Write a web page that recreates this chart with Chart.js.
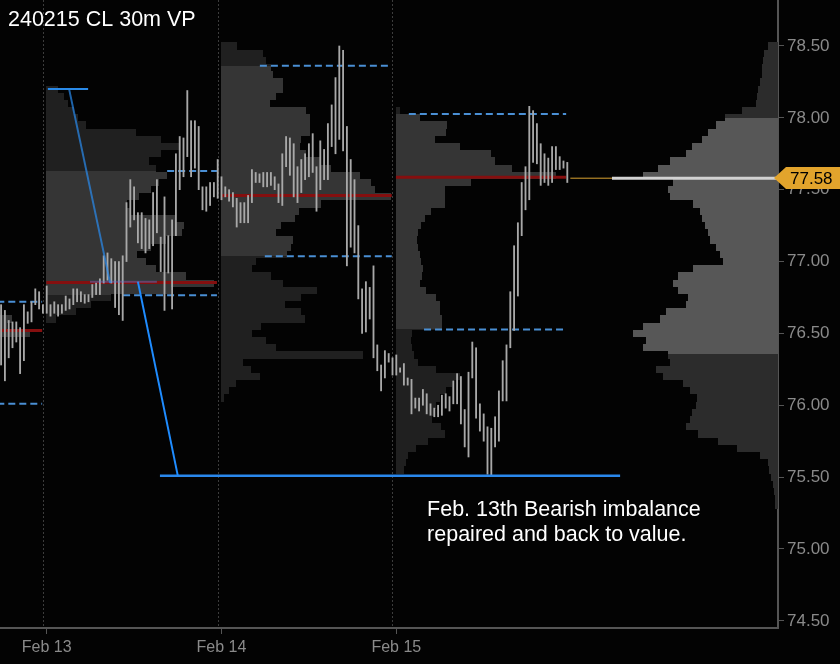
<!DOCTYPE html>
<html>
<head>
<meta charset="utf-8">
<script src="https://cdn.jsdelivr.net/npm/chart.js@4.4.1/dist/chart.umd.min.js"></script>
<style>
  html, body { margin: 0; padding: 0; background: #030303; }
  #wrap { width: 840px; height: 664px; position: relative; }
</style>
</head>
<body>
<div id="wrap"><canvas id="c"></canvas></div>
<script>
// x unit = 30m bar index, 0 = first bar of Feb 13, 46 bars per session
var dayLabels = ['Feb 12', 'Feb 13', 'Feb 14', 'Feb 15'];
var dayStart = [-46, 0, 46, 92];
var dayEnd = [-1.2, 44.8, 90.8, 136.7];
var firstBar = -12;
var yTicks = [74.5, 75, 75.5, 76, 76.5, 77, 77.5, 78, 78.5];

// 30m bar ranges, left to right
var barHigh = [
  76.70, 76.66, 76.59, 76.58, 76.58, 76.54, 76.70, 76.65, 76.72, 76.81, 76.79, 76.70,
  76.83, 76.70, 76.72, 76.70, 76.70, 76.76, 76.74, 76.81, 76.81, 76.79,
  76.77, 76.77, 76.84, 76.85, 76.88, 77.04, 77.06, 77.02, 77.00, 77.00,
  77.04, 77.41, 77.57, 77.52, 77.34, 77.34, 77.30, 77.29, 77.48, 77.57,
  77.17, 77.45, 77.18, 77.29, 77.75, 77.87, 77.86, 78.19, 77.98, 77.98,
  77.94, 77.52, 77.52, 77.55, 77.55, 77.71,
  77.59, 77.52, 77.50, 77.48, 77.44, 77.41, 77.41, 77.46, 77.64, 77.62,
  77.61, 77.62, 77.62, 77.62, 77.59, 77.54, 77.75, 77.87, 77.86, 77.82,
  77.66, 77.71, 77.75, 77.82, 77.89, 77.66, 77.84, 77.78, 77.96, 78.09,
  78.28, 78.50, 78.47, 77.94, 77.71, 77.57, 77.25, 76.81, 76.86, 76.82,
  76.97, 76.42, 76.28, 76.38, 76.36, 76.33,
  76.35, 76.26, 76.29, 76.19, 76.18, 76.05, 76.05, 76.11, 76.08, 76.01,
  75.98, 76.00, 76.07, 76.08, 76.06, 76.17, 76.22, 76.20, 75.97, 76.23,
  76.44, 76.40, 76.01, 75.94, 75.85, 75.84, 75.92, 76.10, 76.31, 76.42,
  76.79, 77.11, 77.27, 77.55, 77.66, 78.08, 78.05, 77.96, 77.82, 77.75,
  77.72, 77.80, 77.80, 77.73, 77.70, 77.69
];
var barLow = [
  76.28, 76.17, 76.33, 76.40, 76.44, 76.22, 76.31, 76.57, 76.58, 76.70, 76.67, 76.64,
  76.64, 76.62, 76.64, 76.62, 76.64, 76.66, 76.67, 76.70, 76.72, 76.72,
  76.71, 76.72, 76.75, 76.77, 76.77, 76.85, 76.87, 76.85, 76.68, 76.63,
  76.59, 77.00, 77.24, 77.29, 77.13, 77.09, 77.06, 77.09, 77.11, 77.20,
  76.93, 76.66, 76.92, 76.67, 77.18, 77.50, 77.59, 77.73, 77.59, 77.65,
  77.50, 77.36, 77.35, 77.39, 77.45, 77.44,
  77.43, 77.45, 77.42, 77.38, 77.24, 77.27, 77.27, 77.27, 77.41, 77.55,
  77.55, 77.52, 77.52, 77.53, 77.50, 77.41, 77.39, 77.66, 77.60, 77.45,
  77.41, 77.48, 77.57, 77.59, 77.62, 77.35, 77.50, 77.57, 77.57, 77.80,
  77.75, 77.85, 77.77, 76.97, 77.10, 77.06, 76.74, 76.50, 76.51, 76.60,
  76.33, 76.24, 76.10, 76.19, 76.30, 76.21,
  76.21, 76.23, 76.14, 76.14, 75.94, 75.98, 75.96, 76.00, 75.94, 75.93,
  75.92, 75.92, 75.93, 75.98, 75.96, 76.01, 76.01, 75.87, 75.71, 75.64,
  76.19, 75.91, 75.82, 75.75, 75.52, 75.51, 75.71, 75.75, 76.03, 76.03,
  76.40, 76.52, 76.76, 77.18, 77.36, 77.43, 77.69, 77.68, 77.53, 77.55,
  77.53, 77.55, 77.64, 77.64, 77.65, 77.55
];
var lastClose = 77.58;

// volume profiles, rows of 0.05 from the given low price
var profStep = 0.05;
var feb12Low = 76.00;
var feb12Vol = [60, 70, 80, 90, 95, 100, 110, 115, 120, 125, 158, 135, 140, 120, 110, 90, 60];
var feb13Low = 76.60;
var feb13Vol = [10, 30, 45, 65, 125, 168, 140, 110, 100, 91, 105, 120, 136, 138, 130, 85, 81, 93,
  105, 113, 121, 110, 103, 115, 133, 115, 90, 40, 32, 28, 22, 18, 12];
var feb14Low = 76.05;
var feb14Vol = [3, 8, 15, 39, 30, 22, 142, 55, 45, 31, 40, 84, 80, 64, 80, 96, 62, 50, 31, 35,
  66, 70, 72, 55, 60, 74, 78, 100, 170, 154, 150, 139, 110, 99, 85, 79, 80, 89, 89, 89,
  85, 49, 55, 62, 62, 52, 50, 45, 42, 16];
var feb15Low = 75.55;
var feb15Vol = [8, 10, 12, 20, 32, 49, 45, 36, 38, 40, 44, 50, 56, 64, 40, 22, 18, 16, 15, 16,
  46, 46, 44, 44, 40, 30, 24, 26, 27, 25, 24, 22, 21, 22, 25, 29, 35, 49, 49, 49,
  75, 160, 116, 99, 95, 64, 39, 50, 51, 24, 4];
var compLow = 75.30;
var compVol = [3, 3, 4, 5, 7, 9, 10, 18, 41, 60, 80, 92, 88, 86, 82, 81, 88, 95, 115, 122,
  108, 110, 135, 132, 145, 135, 118, 112, 92, 90, 100, 105, 100, 85, 55, 58, 62, 68, 70, 73,
  76, 78, 85, 108, 110, 105, 135, 120, 108, 92, 86, 76, 70, 62, 53, 36, 22, 21, 20, 18,
  16, 16, 15, 14, 10];
var compPocPrice = 77.58;
var compPocVol = 166;
var compVaLow = 76.36;
var compVaHigh = 78.00;

// session levels
var pocPrice = [76.52, 76.855, 77.46, 77.587];
var vahPrice = [76.72, 77.63, 78.363, 78.026];
var valPrice = [76.01, 76.765, 77.037, 76.528];
var vahFrom = [-13, 31.7, 56.1, 95.3];
var valFrom = [-13, 20.1, 57.4, 99.3];

// drawn annotation (bar index, price)
var markHigh = 78.20;
var markRetest = 76.86;
var markLow = 75.51;
var noteLines = ['Feb. 13th Bearish imbalance', 'repaired and back to value.'];
var noteAt = { x: 100.1, y: 75.23 };
var titleText = '240215 CL 30m VP';

var xMin = -12.29, xMax = 192.45, yMin = 74.45, yMax = 78.82;
var volToBars = 1 / 3.8;
var FONT = 'Arial, "Liberation Sans", sans-serif';

var daily = [
  { start: dayStart[0] - 0.1, low: feb12Low, vols: feb12Vol, vaLow: valPrice[0], vaHigh: vahPrice[0] },
  { start: dayStart[1] - 0.1, low: feb13Low, vols: feb13Vol, vaLow: valPrice[1], vaHigh: vahPrice[1] },
  { start: dayStart[2] - 0.1, low: feb14Low, vols: feb14Vol, vaLow: valPrice[2], vaHigh: vahPrice[2] },
  { start: dayStart[3] - 0.1, low: feb15Low, vols: feb15Vol, vaLow: valPrice[3], vaHigh: vahPrice[3] }
];
var composite = { low: compLow, vols: compVol, vaLow: compVaLow, vaHigh: compVaHigh };

function drawProfile(ctx, xs, ys, p, dark, light, fromRight) {
  var vaTop = Math.round(ys.getPixelForValue(p.vaHigh));
  var vaBot = Math.round(ys.getPixelForValue(p.vaLow));
  p.vols.forEach(function (v, i) {
    var price = p.low + i * profStep;
    var top = Math.round(ys.getPixelForValue(price + profStep / 2));
    var bot = Math.round(ys.getPixelForValue(price - profStep / 2));
    var xa, xb;
    if (fromRight) {
      xa = xs.getPixelForValue(xMax - v * volToBars);
      xb = xs.getPixelForValue(xMax);
    } else {
      xa = xs.getPixelForValue(p.start);
      xb = xs.getPixelForValue(p.start + v * volToBars);
    }
    xa = Math.round(xa); xb = Math.round(xb);
    ctx.fillStyle = dark;
    ctx.fillRect(xa, top, xb - xa, bot - top);
    var t = Math.max(top, vaTop), b = Math.min(bot, vaBot);
    if (b > t) {
      ctx.fillStyle = light;
      ctx.fillRect(xa, t, xb - xa, b - t);
    }
  });
}

var backdrop = {
  id: 'backdrop',
  beforeDatasetsDraw: function (chart) {
    var ctx = chart.ctx, xs = chart.scales.x, ys = chart.scales.y, a = chart.chartArea;
    ctx.save();
    // session separators
    ctx.strokeStyle = '#3c3c3c';
    ctx.lineWidth = 1;
    ctx.setLineDash([2, 2]);
    dayStart.forEach(function (d) {
      var x = Math.round(xs.getPixelForValue(d - 1)) + 0.5;
      if (x < a.left) return;
      ctx.beginPath();
      ctx.moveTo(x, 0);
      ctx.lineTo(x, a.bottom);
      ctx.stroke();
    });
    ctx.setLineDash([]);
    ctx.beginPath();
    ctx.rect(a.left, a.top, a.right - a.left, a.bottom - a.top);
    ctx.clip();
    daily.forEach(function (p) { drawProfile(ctx, xs, ys, p, '#202020', '#353535', false); });
    drawProfile(ctx, xs, ys, composite, '#2c2c2c', '#575757', true);
    ctx.restore();
  },
  afterDraw: function (chart) {
    var ctx = chart.ctx, xs = chart.scales.x, ys = chart.scales.y, a = chart.chartArea;
    ctx.save();
    ctx.fillStyle = '#ffffff';
    ctx.textBaseline = 'alphabetic';
    ctx.textAlign = 'left';
    ctx.font = '21.5px ' + FONT;
    ctx.fillText(titleText, 8, 26);
    var nx = xs.getPixelForValue(noteAt.x), ny = ys.getPixelForValue(noteAt.y);
    noteLines.forEach(function (t, i) { ctx.fillText(t, nx, ny + i * 25); });

    // last price tag
    var py = Math.round(ys.getPixelForValue(lastClose));
    var x0 = a.right - 4;
    ctx.fillStyle = '#e2a42c';
    ctx.beginPath();
    ctx.moveTo(x0, py);
    ctx.lineTo(x0 + 12, py - 11);
    ctx.lineTo(chart.width, py - 11);
    ctx.lineTo(chart.width, py + 11);
    ctx.lineTo(x0 + 12, py + 11);
    ctx.closePath();
    ctx.fill();
    ctx.fillStyle = '#000000';
    ctx.font = '17px ' + FONT;
    ctx.textBaseline = 'middle';
    ctx.fillText(lastClose.toFixed(2), x0 + 16, py + 1);
    ctx.restore();
  }
};

function seg(x0, x1, y0, y1, color, width, dash, order) {
  return {
    type: 'line',
    data: [{ x: x0, y: y0 }, { x: x1, y: y1 }],
    borderColor: color,
    borderWidth: width,
    borderDash: dash || [],
    pointRadius: 0,
    fill: false,
    tension: 0,
    order: order
  };
}

var datasets = [];
// annotation, on top
datasets.push(seg(0.3, 10.9, markHigh, markHigh, '#2a8ae8', 2, null, 0));
datasets.push(seg(5.9, 16.7, markHigh, 76.85, 'rgba(42,140,240,0.7)', 2, null, 0));
datasets.push(seg(11.4, 29, markRetest, markRetest, 'rgba(70,130,220,0.45)', 2, null, 0));
datasets.push(seg(24.0, 34.5, markRetest, markLow, '#1f8cff', 2, null, 0));
datasets.push(seg(29.8, 150.9, markLow, markLow, '#2a88ec', 2.5, null, 0));
// composite POC over the last price line
datasets.push(seg(xMax - compPocVol * volToBars, xMax, compPocPrice, compPocPrice, '#d2d2d2', 3, null, 0.5));
datasets.push(seg(firstBar + barHigh.length - 0.2, xMax, lastClose, lastClose, '#d9a232', 1, null, 1));
// bars
datasets.push({
  type: 'bar',
  data: barHigh.map(function (h, i) { return { x: firstBar + i, y: [barLow[i], h] }; }),
  backgroundColor: '#a8a8a8',
  borderWidth: 0,
  barThickness: 1.2,
  grouped: false,
  order: 2
});
// session POC and value area levels
for (var d = 0; d < 4; d++) {
  datasets.push(seg(dayStart[d] - 0.1, dayEnd[d], pocPrice[d], pocPrice[d], '#850f0f', 3, null, 3));
  datasets.push(seg(vahFrom[d], dayEnd[d], vahPrice[d], vahPrice[d], '#4a8fd4', 2, [7, 4], 3));
  datasets.push(seg(valFrom[d], dayEnd[d], valPrice[d], valPrice[d], '#4a8fd4', 2, [7, 4], 3));
}

new Chart(document.getElementById('c'), {
  type: 'bar',
  data: { datasets: datasets },
  options: {
    animation: false,
    responsive: true,
    maintainAspectRatio: false,
    layout: { padding: 0, autoPadding: false },
    plugins: { legend: { display: false }, tooltip: { enabled: false } },
    scales: {
      x: {
        type: 'linear',
        min: xMin,
        max: xMax,
        offset: false,
        afterBuildTicks: function (s) { s.ticks = dayStart.slice(1).map(function (v) { return { value: v }; }); },
        afterFit: function (s) { s.height = 36; },
        grid: { display: true, drawOnChartArea: false, offset: false, color: '#555555', tickLength: 6 },
        border: { display: true, color: '#555555', width: 2 },
        ticks: {
          color: '#8a8a8a',
          font: { family: FONT, size: 16 },
          padding: 4,
          maxRotation: 0,
          autoSkip: false,
          callback: function (v) { return dayLabels[dayStart.indexOf(v)]; }
        }
      },
      y: {
        type: 'linear',
        position: 'right',
        min: yMin,
        max: yMax,
        afterBuildTicks: function (s) { s.ticks = yTicks.map(function (v) { return { value: v }; }); },
        afterFit: function (s) { s.width = 62; s.paddingTop = 0; s.paddingBottom = 0; },
        grid: { display: true, drawOnChartArea: false, color: '#555555', tickLength: 6 },
        border: { display: true, color: '#555555', width: 2 },
        ticks: {
          color: '#8a8a8a',
          font: { family: FONT, size: 17 },
          padding: 3,
          callback: function (v) { return v.toFixed(2); }
        }
      }
    }
  },
  plugins: [backdrop]
});
</script>
</body>
</html>
